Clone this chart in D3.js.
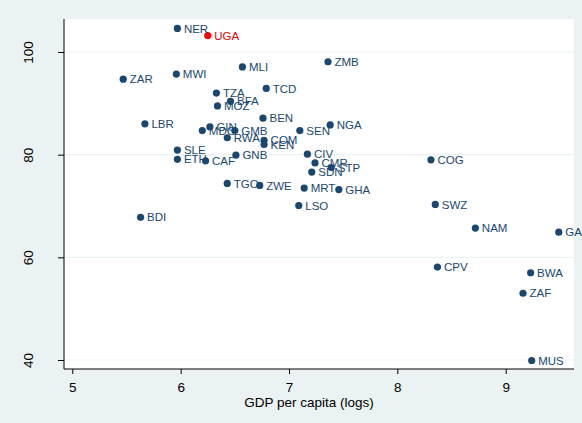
<!DOCTYPE html>
<html>
<head>
<meta charset="utf-8">
<script src="https://cdn.jsdelivr.net/npm/d3@7"></script>
<style>
  body { margin: 0; background: #eaf2f3; }
  svg { display: block; font-family: "Liberation Sans", Arial, sans-serif; }
</style>
</head>
<body>
<div id="chart"></div>
<script>
var width = 582;
var height = 423;

// country codes, log GDP per capita, y value
var countries = ["NER","UGA","ZAR","MWI","MLI","ZMB","TZA","TCD","BFA","MOZ",
  "BEN","LBR","MDG","GIN","GMB","RWA","COM","KEN","SEN","NGA",
  "SLE","ETH","CAF","GNB","CIV","CMR","STP","SDN","TGO","ZWE",
  "MRT","GHA","LSO","BDI","COG","SWZ","NAM","GAB","CPV","BWA","ZAF","MUS"];
var gdp = [5.97,6.25,5.47,5.96,6.57,7.36,6.33,6.79,6.46,6.34,
  6.76,5.67,6.20,6.27,6.50,6.43,6.77,6.77,7.10,7.38,
  5.97,5.97,6.23,6.51,7.17,7.24,7.39,7.21,6.43,6.73,
  7.14,7.46,7.09,5.63,8.31,8.35,8.72,9.49,8.37,9.23,9.16,9.24];
var yval = [104.6,103.2,94.7,95.7,97.1,98.1,92.0,92.9,90.4,89.5,
  87.1,86.0,84.7,85.4,84.7,83.3,82.8,82.0,84.7,85.8,
  80.9,79.1,78.8,79.9,80.1,78.4,77.5,76.6,74.4,74.0,
  73.5,73.2,70.1,67.8,79.0,70.3,65.7,64.9,58.1,57.0,53.0,39.9];
var highlight = "UGA";

var xTicks = [5, 6, 7, 8, 9];
var yTicks = [40, 60, 80, 100];

var data = countries.map(function(c, i) {
  return {code: c, x: gdp[i], y: yval[i]};
});

var plot = {left: 64, right: 574, top: 19, bottom: 369};

var svg = d3.select("#chart").append("svg")
  .attr("width", width)
  .attr("height", height);

svg.append("rect")
  .attr("width", width).attr("height", height)
  .attr("fill", "#eaf2f3");

svg.append("rect")
  .attr("x", plot.left).attr("y", plot.top)
  .attr("width", plot.right - plot.left)
  .attr("height", plot.bottom - plot.top)
  .attr("fill", "white");

var x = d3.scaleLinear().domain([5, 9]).range([72.3, 505.7]);
var y = d3.scaleLinear().domain([40, 100]).range([360, 52]);

// gridlines
svg.selectAll(".grid")
  .data(yTicks).enter()
  .append("line")
  .attr("class", "grid")
  .attr("x1", plot.left).attr("x2", plot.right)
  .attr("y1", function(d) { return y(d); })
  .attr("y2", function(d) { return y(d); })
  .attr("stroke", "#eaf2f3")
  .attr("stroke-width", 1.2);

// y axis
var yAxis = svg.append("g")
  .attr("transform", "translate(" + plot.left + ",0)")
  .call(d3.axisLeft(y).tickValues(yTicks).tickSize(6).tickPadding(0).tickFormat(d3.format("d")));
yAxis.select(".domain").attr("d", "M0," + plot.top + "V" + plot.bottom);
yAxis.selectAll("text")
  .attr("transform", "translate(-36,0) rotate(-90)")
  .attr("x", 0).attr("y", 0).attr("dy", "0.35em")
  .style("text-anchor", "middle")
  .style("font-size", "13.5px")
  .style("font-family", "Liberation Sans, Arial, sans-serif")
  .attr("fill", "#000");

// x axis
var xAxis = svg.append("g")
  .attr("transform", "translate(0," + plot.bottom + ")")
  .call(d3.axisBottom(x).tickValues(xTicks).tickSize(5).tickPadding(8).tickFormat(d3.format("d")));
xAxis.select(".domain").attr("d", "M" + plot.left + ",0H" + plot.right);
xAxis.selectAll("text")
  .style("font-size", "13.5px")
  .style("font-family", "Liberation Sans, Arial, sans-serif")
  .attr("fill", "#000");

svg.append("text")
  .attr("x", 309)
  .attr("y", 407)
  .attr("text-anchor", "middle")
  .style("font-size", "13.5px")
  .text("GDP per capita (logs)");

// points
svg.selectAll("circle.pt")
  .data(data).enter()
  .append("circle")
  .attr("class", "pt")
  .attr("cx", function(d) { return x(d.x); })
  .attr("cy", function(d) { return y(d.y); })
  .attr("r", 3.6)
  .attr("fill", function(d) { return d.code == highlight ? "#ff0000" : "#1a476f"; });

svg.selectAll("text.lbl")
  .data(data).enter()
  .append("text")
  .attr("class", "lbl")
  .attr("x", function(d) { return x(d.x) + 6.5; })
  .attr("y", function(d) { return y(d.y); })
  .attr("dy", "0.36em")
  .style("font-size", "11.5px")
  .attr("fill", function(d) { return d.code == highlight ? "#e00000" : "#1a476f"; })
  .text(function(d) { return d.code; });
</script>
</body>
</html>
